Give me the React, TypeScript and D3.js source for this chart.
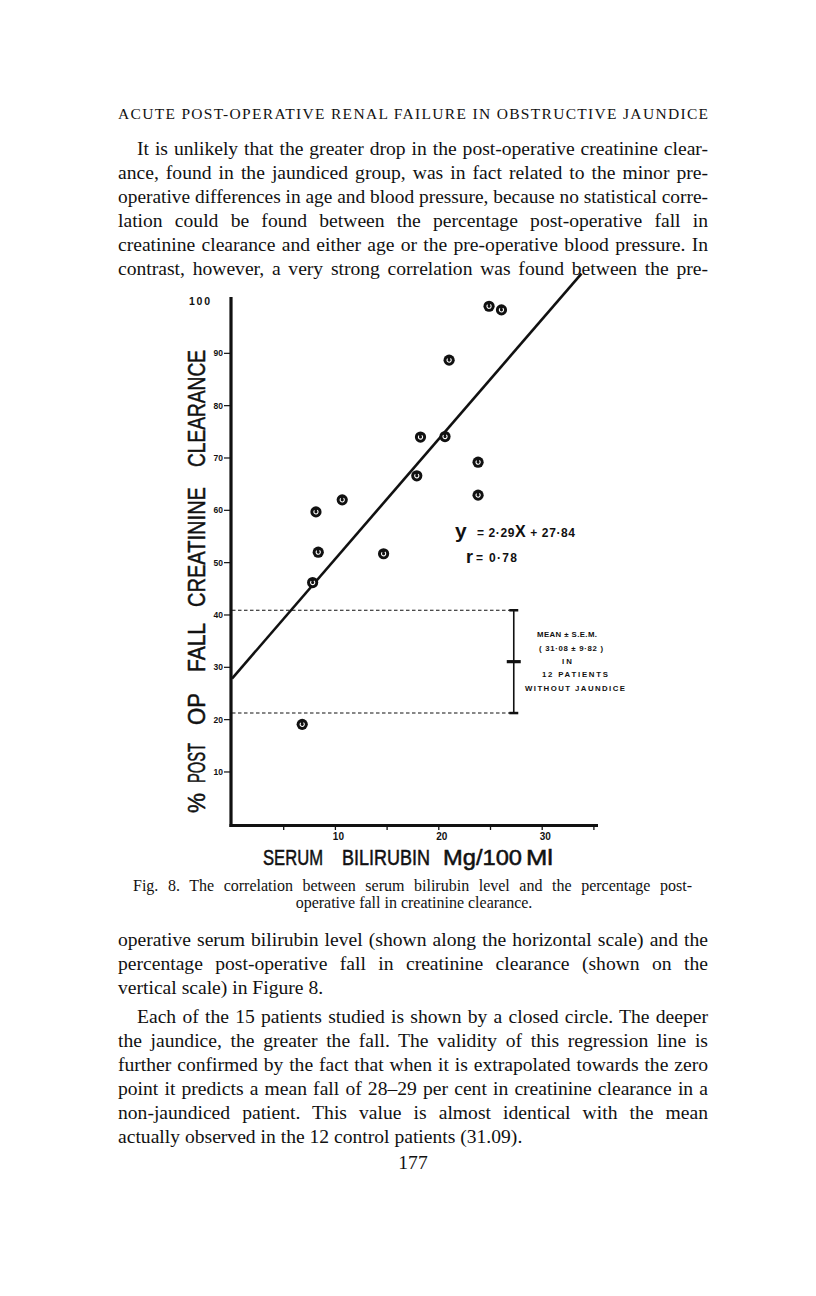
import React, { useEffect, useRef } from "react";
import * as d3 from "d3";

// ---------- data ----------
const bilirubin = [24.86, 26.06, 21.0, 18.23, 20.6, 23.8, 17.87, 23.8, 8.12, 10.66, 8.34, 14.66, 7.8, 6.79];
const fallPct = [99.0, 98.3, 88.7, 74.0, 74.1, 69.2, 66.6, 62.9, 59.7, 62.0, 52.0, 51.7, 46.2, 19.1];
const yTickValues = [10, 20, 30, 40, 50, 60, 70, 80, 90];
const yTopTick = 100;
const xTickLabels = [10, 20, 30];
const xMinorTicks = [5, 10, 15, 20, 25, 30, 35];
const regSlope = 2.29;
const regIntercept = 27.84;
const regXRange = [0, 33.8];
const controlMean = 31.08;
const controlSem = 9.82;
const controlBarX = 27.25;
const annotationLines = ["MEAN ± S.E.M.", "( 31·08 ± 9·82 )", "IN", "12 PATIENTS", "WITHOUT JAUNDICE"];

const titleText = "ACUTE POST-OPERATIVE RENAL FAILURE IN OBSTRUCTIVE JAUNDICE";
const para1 = [
  "It is unlikely that the greater drop in the post-operative creatinine clear-",
  "ance, found in the jaundiced group, was in fact related to the minor pre-",
  "operative differences in age and blood pressure, because no statistical corre-",
  "lation could be found between the percentage post-operative fall in",
  "creatinine clearance and either age or the pre-operative blood pressure.  In",
  "contrast, however, a very strong correlation was found between the pre-",
];
const captionLines = [
  "Fig. 8.  The correlation between serum bilirubin level and the percentage post-",
  "operative fall in creatinine clearance.",
];
const para2 = [
  "operative serum bilirubin level (shown along the horizontal scale) and the",
  "percentage post-operative fall in creatinine clearance (shown on the",
  "vertical scale) in Figure 8.",
];
const para3 = [
  "Each of the 15 patients studied is shown by a closed circle.  The deeper",
  "the jaundice, the greater the fall.  The validity of this regression line is",
  "further confirmed by the fact that when it is extrapolated towards the zero",
  "point it predicts a mean fall of 28–29 per cent in creatinine clearance in a",
  "non-jaundiced patient.  This value is almost identical with the mean",
  "actually observed in the 12 control patients (31.09).",
];
const pageNumber = "177";

// ---------- layout ----------
const W = 816;
const H = 1296;
const x = d3.scaleLinear().domain([0, 35.3]).range([232, 597]);
const y = d3.scaleLinear().domain([0, 100]).range([824.3, 301]);

const SERIF = "'Liberation Serif', 'Times New Roman', serif";
const SANS = "'Liberation Sans', Arial, sans-serif";

const LEFT = 118;
const RIGHT = 708;
const INDENT = 137;
const BODY_SIZE = 19.6;

export default function App() {
  const ref = useRef<SVGSVGElement>(null);

  useEffect(() => {
    if (!ref.current) return;
    d3.select(ref.current)
      .selectAll<SVGTextElement, unknown>("text[data-jw]")
      .each(function () {
        const el = this as SVGTextElement;
        const target = +(el.getAttribute("data-jw") || 0);
        el.style.wordSpacing = "0px";
        el.removeAttribute("textLength");
        const len = el.getComputedTextLength();
        const txt = el.textContent || "";
        const spaces = (txt.trim().match(/\s+/g) || []).length;
        if (len < target && spaces > 0) {
          el.style.wordSpacing = (target - len) / spaces + "px";
        } else if (len > target) {
          el.setAttribute("textLength", String(target));
          el.setAttribute("lengthAdjust", "spacingAndGlyphs");
        }
      });
  }, []);

  const regLine = d3
    .line<number>()
    .x((d) => x(d))
    .y((d) => y(regSlope * d + regIntercept));

  const hi = controlMean + controlSem;
  const lo = controlMean - controlSem;
  const barX = x(controlBarX);

  const bodyLine = (t: string, i: number, base: number, justify: boolean, indent: boolean, key: string) => {
    const x0 = indent ? INDENT : LEFT;
    return (
      <text
        key={key}
        x={x0}
        y={base + i * 24}
        fontFamily={SERIF}
        fontSize={BODY_SIZE}
        fill="#111"
        {...(justify ? { "data-jw": RIGHT - x0 } : {})}
      >
        {t}
      </text>
    );
  };

  const markerArc = d3.arc()({
    innerRadius: 2.1,
    outerRadius: 2.1,
    startAngle: Math.PI * 0.2,
    endAngle: Math.PI * 1.75,
  } as any);

  const yLabelWords = [
    { w: "%", a: 793, b: 813 },
    { w: "POST", a: 743, b: 783 },
    { w: "OP", a: 693, b: 725 },
    { w: "FALL", a: 623, b: 672 },
    { w: "CREATININE", a: 487, b: 607 },
    { w: "CLEARANCE", a: 350, b: 467 },
  ];
  const xLabelWords = [
    { w: "SERUM", a: 263, b: 323 },
    { w: "BILIRUBIN", a: 342, b: 430 },
    { w: "Mg/100", a: 443, b: 522 },
    { w: "Ml", a: 526, b: 553 },
  ];
  const annY = [637, 651, 664, 677, 691];
  const annX = [567, 571, 567, 575, 575];
  const annW = [60, 64, 10, 66, 100];

  return (
    <svg
      ref={ref}
      width={W}
      height={H}
      viewBox={`0 0 ${W} ${H}`}
      style={{ position: "absolute", left: 0, top: 0, background: "#fff" }}
    >
      <rect width={W} height={H} fill="#fff" />

      {/* page header and body text */}
      <text x={LEFT} y={119} fontFamily={SERIF} fontSize={15.5} fill="#111" textLength={RIGHT - LEFT} lengthAdjust="spacing">
        {titleText}
      </text>
      {para1.map((t, i) => bodyLine(t, i, 155, true, i === 0, "p1" + i))}

      {/* chart */}
      <g>
        {/* dashed control range lines */}
        {[hi, lo].map((v, i) => (
          <line key={"d" + i} x1={x(0)} x2={barX} y1={y(v)} y2={y(v)} stroke="#111" strokeWidth={1.1} strokeDasharray="3.5,2.5" />
        ))}
        {/* error bar */}
        <line x1={barX} x2={barX} y1={y(hi)} y2={y(lo)} stroke="#111" strokeWidth={1.6} />
        <line x1={barX - 4.5} x2={barX + 4.5} y1={y(hi)} y2={y(hi)} stroke="#111" strokeWidth={2.5} />
        <line x1={barX - 4.5} x2={barX + 4.5} y1={y(lo)} y2={y(lo)} stroke="#111" strokeWidth={2.5} />
        <line x1={barX - 7} x2={barX + 7} y1={y(controlMean)} y2={y(controlMean)} stroke="#111" strokeWidth={3.2} />
        {annotationLines.map((t, i) => (
          <text key={"a" + i} x={annX[i]} y={annY[i]} textAnchor="middle" fontFamily={SANS} fontWeight="bold" fontSize={7.8} fill="#111" textLength={annW[i]} lengthAdjust="spacing">
            {t}
          </text>
        ))}

        {/* regression line */}
        <path d={regLine(regXRange) || ""} fill="none" stroke="#111" strokeWidth={2.6} />

        {/* axes */}
        <line x1={231} x2={231} y1={297} y2={827} stroke="#111" strokeWidth={3.2} />
        <line x1={229.5} x2={598} y1={825.5} y2={825.5} stroke="#111" strokeWidth={3.2} />
        {yTickValues.map((v) => (
          <g key={"yt" + v}>
            <line x1={224} x2={231} y1={y(v)} y2={y(v)} stroke="#111" strokeWidth={1.2} />
            <text x={223} y={y(v) + 3} textAnchor="end" fontFamily={SANS} fontWeight="bold" fontSize={8.5} fill="#111">
              {v}
            </text>
          </g>
        ))}
        <text x={210} y={y(yTopTick) + 4} textAnchor="end" fontFamily={SANS} fontWeight="bold" fontSize={10.5} fill="#111" textLength={21} lengthAdjust="spacing">
          {yTopTick}
        </text>
        {xMinorTicks.map((v) => (
          <line key={"xt" + v} x1={x(v)} x2={x(v)} y1={826} y2={830} stroke="#111" strokeWidth={1.3} />
        ))}
        {xTickLabels.map((v) => (
          <text key={"xl" + v} x={x(v) + 3} y={840} textAnchor="middle" fontFamily={SANS} fontWeight="bold" fontSize={10} fill="#111">
            {v}
          </text>
        ))}

        {/* axis titles */}
        {yLabelWords.map((o) => (
          <text
            key={"yw" + o.w}
            transform={`translate(205,${o.b}) rotate(-90)`}
            fontFamily={SANS}
            fontSize={24}
            fill="#111"
            stroke="#111"
            strokeWidth={0.5}
            textLength={o.b - o.a}
            lengthAdjust="spacingAndGlyphs"
          >
            {o.w}
          </text>
        ))}
        {xLabelWords.map((o) => (
          <text
            key={"xw" + o.w}
            x={o.a}
            y={865}
            fontFamily={SANS}
            fontSize={21.5}
            fill="#111"
            stroke="#111"
            strokeWidth={0.5}
            textLength={o.b - o.a}
            lengthAdjust="spacingAndGlyphs"
          >
            {o.w}
          </text>
        ))}

        {/* equation */}
        <text x={455} y={538} fontFamily={SANS} fontWeight="bold" fontSize={21} fill="#111">y</text>
        <text x={477} y={537} fontFamily={SANS} fontWeight="bold" fontSize={12} fill="#111" textLength={98} lengthAdjust="spacing">
          = 2·29<tspan fontSize={16}>X</tspan> + 27·84
        </text>
        <text x={466} y={563} fontFamily={SANS} fontWeight="bold" fontSize={18} fill="#111">r</text>
        <text x={476} y={562} fontFamily={SANS} fontWeight="bold" fontSize={12} fill="#111" textLength={41} lengthAdjust="spacing">= 0·78</text>

        {/* points */}
        {bilirubin.map((b, i) => (
          <g key={"pt" + i} transform={`translate(${x(b)},${y(fallPct[i])})`}>
            <circle r={5.6} fill="#111" />
            <path d={markerArc || ""} fill="none" stroke="#fff" strokeWidth={1.1} />
          </g>
        ))}
      </g>

      {/* caption */}
      <text x={133} y={891} fontFamily={SERIF} fontSize={16} fill="#111" data-jw={692 - 133}>
        {captionLines[0]}
      </text>
      <text x={414} y={908} textAnchor="middle" fontFamily={SERIF} fontSize={16} fill="#111">
        {captionLines[1]}
      </text>

      {para2.map((t, i) => bodyLine(t, i, 946, i < para2.length - 1, false, "p2" + i))}
      {para3.map((t, i) => bodyLine(t, i, 1023, i < para3.length - 1, i === 0, "p3" + i))}

      <text x={413} y={1169} textAnchor="middle" fontFamily={SERIF} fontSize={BODY_SIZE} fill="#111">
        {pageNumber}
      </text>
    </svg>
  );
}
